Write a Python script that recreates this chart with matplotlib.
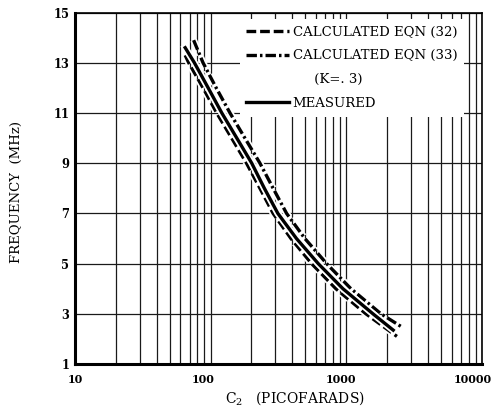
import matplotlib
matplotlib.use("Agg")
import matplotlib.pyplot as plt
import matplotlib.patheffects as pe
import matplotlib.transforms as mtransforms
from matplotlib.lines import Line2D

plt.rcParams["font.family"] = "DejaVu Serif"
plt.rcParams["mathtext.fontset"] = "dejavuserif"
plt.rcParams["lines.scale_dashes"] = False

# Values: capacitance C2 (pF) against frequency (MHz)
eqn32_c = [65, 69, 88, 111, 143, 184, 231, 289, 391, 555, 838, 1395, 2360]
eqn32_f = [13.3, 13, 12, 11, 10, 9, 8, 7, 6, 5, 4, 3, 2.1]

measured_c = [65, 76, 96, 121, 156, 201, 249, 313, 429, 621, 944, 1571, 2216]
measured_f = [13.6, 13, 12, 11, 10, 9, 8, 7, 6, 5, 4, 3, 2.35]

eqn33_c = [75, 88, 110, 139, 179, 231, 289, 363, 495, 716, 1081, 1799, 2556]
eqn33_f = [13.9, 13, 12, 11, 10, 9, 8, 7, 6, 5, 4, 3, 2.48]

y_ticks = [1, 3, 5, 7, 9, 11, 13, 15]
x_ticks = [10, 100, 1000, 10000]
x_tick_labels = ["10", "100", "1000", "10000"]

fig = plt.figure(figsize=(4.99, 4.12), dpi=100)
ax = fig.add_axes([0.150, 0.1165, 0.816, 0.853])

halo = [pe.Stroke(linewidth=5.0, foreground="white"), pe.Normal()]

ax.plot(eqn32_c, eqn32_f, color="black", linewidth=2.4, dashes=(7, 2.8),
        path_effects=halo, label="CALCULATED EQN (32)", zorder=3)
ax.plot(eqn33_c, eqn33_f, color="black", linewidth=2.4, dashes=(7.5, 2.2, 1.8, 2.2),
        path_effects=halo, label="CALCULATED EQN (33)", zorder=3)
ax.plot(measured_c, measured_f, color="black", linewidth=2.4,
        path_effects=halo, label="MEASURED", zorder=3)

ax.set_xscale("log")
ax.set_xlim(10, 10000)
ax.set_ylim(1, 15)
ax.set_yticks(y_ticks)
ax.set_xticks(x_ticks)
ax.set_xticklabels(x_tick_labels)
ax.minorticks_on()
ax.yaxis.set_minor_locator(plt.NullLocator())
ax.tick_params(which="both", length=0)
ax.tick_params(axis="x", pad=7)
ax.tick_params(axis="y", pad=4)
for lab in ax.get_yticklabels():
    lab.set_fontweight("bold")
    lab.set_fontsize(8.3)

# the printed x labels sit a little left of their grid lines
x_shift_px = [0, -7, -5, -9]
for lab, dx in zip(ax.get_xticklabels(), x_shift_px):
    lab.set_fontweight("bold")
    lab.set_fontsize(8)
    lab.set_transform(lab.get_transform() +
                      mtransforms.ScaledTranslation(dx / 100, 0, fig.dpi_scale_trans))

# grid: every decade subdivision on x, odd values on y
ax.grid(True, axis="x", which="both", color="#1a1a1a", linewidth=0.9)
ax.grid(True, axis="y", which="major", color="#1a1a1a", linewidth=0.9)
ax.set_axisbelow(True)

for side in ["left", "bottom"]:
    ax.spines[side].set_linewidth(2.2)
for side in ["top", "right"]:
    ax.spines[side].set_linewidth(1.2)

ax.set_xlabel(r"C$_2$   (PICOFARADS)", fontsize=10)
ax.xaxis.set_label_coords(0.54, -0.072)
ax.set_ylabel("FREQUENCY  (MHz)", fontsize=9.5)
ax.yaxis.set_label_coords(-0.128, 0.49)

handles, labels = ax.get_legend_handles_labels()
blank = Line2D([], [], color="none")
order = [handles[0], handles[1], blank, handles[2]]
names = [labels[0], labels[1], "     (K=. 3)", labels[2]]
leg = ax.legend(order, names, loc="upper left", bbox_to_anchor=(0.405, 0.982),
                frameon=True, fancybox=False, framealpha=1, facecolor="white",
                edgecolor="none", fontsize=9.5, handlelength=3.2, handletextpad=0.3,
                labelspacing=0.82, borderpad=0.5, borderaxespad=0)
leg.set_zorder(5)

fig.savefig("out.png", dpi=100)
